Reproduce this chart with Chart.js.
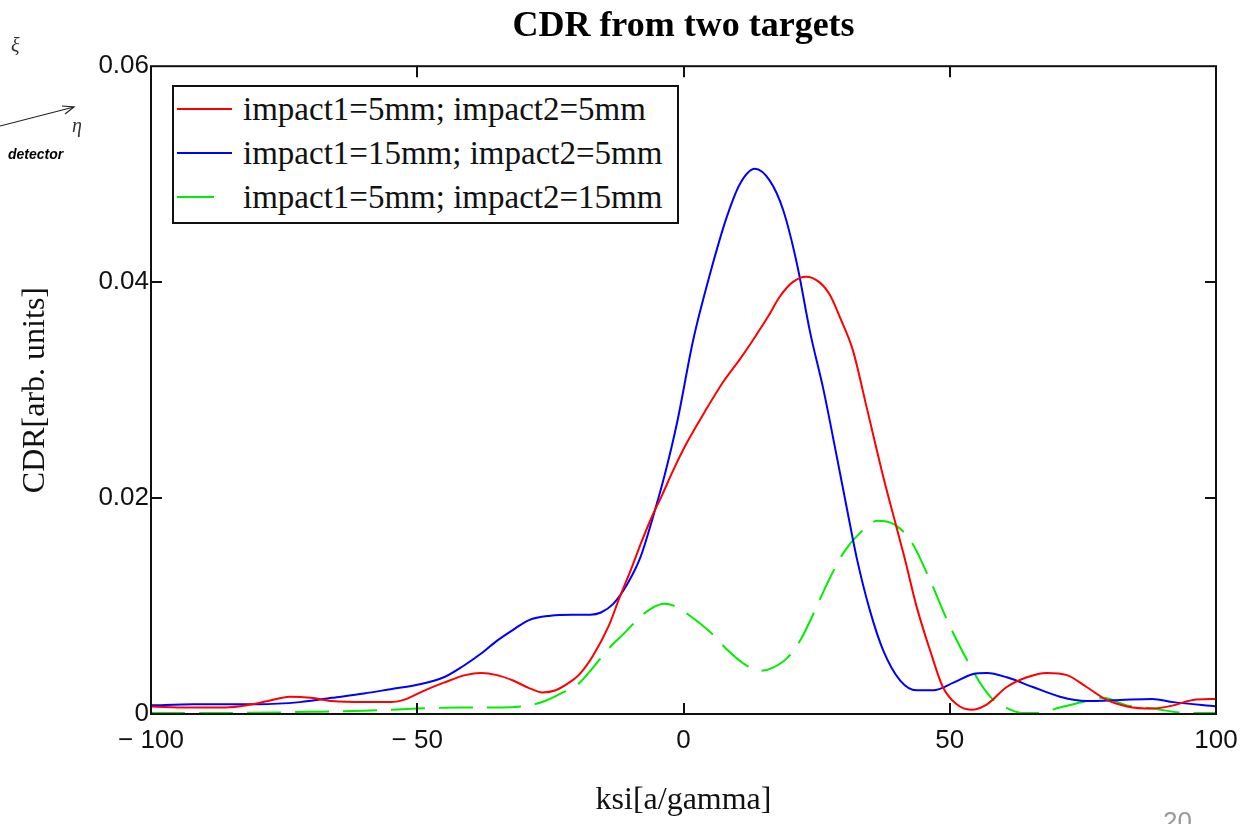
<!DOCTYPE html>
<html>
<head>
<meta charset="utf-8">
<script src="https://cdn.jsdelivr.net/npm/chart.js@4.4.1/dist/chart.umd.min.js"></script>
<style>
    body { margin: 0; background: #fff; }
    #wrap { position: relative; width: 1253px; height: 824px; overflow: hidden; }
    #legend {
        position: absolute; left: 172px; top: 85px; width: 507px; height: 139px;
        box-sizing: border-box; border: 2px solid #111; background: #fff;
        font-family: "Liberation Serif", "Times New Roman", serif; font-size: 33px; color: #111;
    }
    .row { position: relative; height: 44px; line-height: 44px; padding-left: 69px; white-space: nowrap; }
    .row .swatch { position: absolute; left: 3px; top: 21px; height: 0; border-top: 2px solid; }
    .note { position: absolute; font-family: "Liberation Serif", serif; font-style: italic; color: #333; }
</style>
</head>
<body>
<div id="wrap">
    <canvas id="cdrChart" width="1253" height="824"></canvas>
    <div id="legend"></div>
    <div class="note" style="left:11px; top:34px; font-size:20px;">ξ</div>
    <div class="note" style="left:72px; top:114px; font-size:20px;">η</div>
    <div class="note" style="left:8px; top:146px; font-family:'Liberation Sans',Arial,sans-serif; font-weight:bold; font-size:14px; color:#000;">detector</div>
    <svg style="position:absolute; left:0; top:95px;" width="90" height="40">
        <line x1="0" y1="31" x2="74" y2="12" stroke="#222" stroke-width="1.2"/>
        <polyline points="62,11 74,12 65,19" fill="none" stroke="#222" stroke-width="1.2"/>
    </svg>
    <div style="position:absolute; left:1163px; top:806px; font-family:'Liberation Sans',sans-serif; font-size:26px; color:#999;">20</div>
</div>

<script>
// impact1=5mm; impact2=5mm
const ksiRed = [-100, -93, -86, -82, -78, -74, -70, -66, -60, -55, -52, -49, -45, -41, -38, -35, -32, -29, -26.5, -24, -21.5, -19.5, -17, -14, -12, -10, -8, -6, -4, -2, 0.5, 4, 7.5, 10.5, 13, 16, 18, 20.5, 23, 25.5, 27.5, 29.5, 31.8, 34.4, 37.5, 40, 41.5, 43.8, 46.3, 48.7, 51.3, 54, 57, 60.7, 64.5, 68.2, 72, 75.7, 79.5, 83.3, 88, 92, 95.7, 100];
const cdrRed = [0.0007, 0.0006, 0.0006, 0.0008, 0.0012, 0.0016, 0.0015, 0.0012, 0.0011, 0.0011, 0.0014, 0.0021, 0.0029, 0.0036, 0.0038, 0.0036, 0.0031, 0.0024, 0.0020, 0.0022, 0.0029, 0.0037, 0.0054, 0.0082, 0.0108, 0.0132, 0.0158, 0.0182, 0.0203, 0.0225, 0.0250, 0.0280, 0.0308, 0.0328, 0.0346, 0.0369, 0.0386, 0.0400, 0.0405, 0.0400, 0.0388, 0.0366, 0.0337, 0.0284, 0.0220, 0.0173, 0.0145, 0.0099, 0.0059, 0.0025, 0.0009, 0.0004, 0.0009, 0.0025, 0.0034, 0.0038, 0.0036, 0.0025, 0.0013, 0.0007, 0.0005, 0.0008, 0.0013, 0.0014];

// impact1=15mm; impact2=5mm
const ksiBlue = [-100, -92, -80, -72, -66, -60, -55, -50, -45, -41.5, -38, -35, -32, -29, -25, -21, -17.5, -15.5, -13.2, -10.6, -8.1, -5.7, -3.5, -1.2, 1.8, 5, 8.1, 10.6, 13.4, 16.2, 18.7, 21.3, 23.8, 26.3, 28.8, 30.5, 32.6, 35, 37.5, 40.7, 43.8, 46.9, 50.7, 54.4, 57, 60.7, 65.6, 70.7, 75.7, 82, 88, 92, 100];
const cdrBlue = [0.0008, 0.0009, 0.0009, 0.0011, 0.0015, 0.0019, 0.0023, 0.0027, 0.0034, 0.0044, 0.0056, 0.0068, 0.0078, 0.0087, 0.0091, 0.0092, 0.0092, 0.0094, 0.0102, 0.0120, 0.0145, 0.0183, 0.0222, 0.0270, 0.0346, 0.0408, 0.0460, 0.0491, 0.0505, 0.0494, 0.0467, 0.0417, 0.0353, 0.0300, 0.0238, 0.0195, 0.0143, 0.0096, 0.0059, 0.0031, 0.0022, 0.0022, 0.0029, 0.0037, 0.0038, 0.0034, 0.0025, 0.0016, 0.0012, 0.0013, 0.0014, 0.0011, 0.0007];

// impact1=5mm; impact2=15mm
const ksiGreen = [-100, -85, -70, -60, -50, -42, -34, -29, -26, -23, -19.5, -17, -13.8, -11.3, -8.5, -6.3, -3.5, -1.2, 1.2, 5, 8.1, 11.2, 14.4, 16.8, 19.5, 21.9, 24.4, 27, 30, 33.2, 36.5, 39.4, 42.6, 46.3, 49.5, 52.6, 55.8, 58, 60.5, 63.5, 66.5, 70.7, 75.7, 78.8, 83.3, 88.2, 94.5, 100];
const cdrGreen = [0.0001, 0.0001, 0.0002, 0.0003, 0.0005, 0.0006, 0.0006, 0.0008, 0.0012, 0.0019, 0.0029, 0.0043, 0.0062, 0.0074, 0.0088, 0.0097, 0.0102, 0.0099, 0.0091, 0.0076, 0.0060, 0.0047, 0.0040, 0.0043, 0.0052, 0.0068, 0.0093, 0.0121, 0.0149, 0.0168, 0.0179, 0.0176, 0.0161, 0.0124, 0.0087, 0.0056, 0.0028, 0.0014, 0.0006, 0.0001, 0.0001, 0.0006, 0.0012, 0.0015, 0.0008, 0.0005, 0.0001, 0.0001];

const seriesLabels = ['impact1=5mm; impact2=5mm', 'impact1=15mm; impact2=5mm', 'impact1=5mm; impact2=15mm'];
const xTicks = [-100, -50, 0, 50, 100];
const yTicks = [0, 0.02, 0.04, 0.06];

function toPoints(xs, ys) {
    return xs.map((x, i) => ({ x: x, y: ys[i] }));
}

// title centred over the plot, not the whole canvas
const centerTitle = {
    id: 'centerTitle',
    afterLayout(chart) {
        if (chart.titleBlock) {
            chart.titleBlock.left = chart.chartArea.left;
            chart.titleBlock.right = chart.chartArea.right;
        }
    }
};

// box around the plot plus inward tick marks on all four sides
const frameTicks = {
    id: 'frameTicks',
    afterDatasetsDraw(chart) {
        const { ctx, chartArea: a, scales: { x, y } } = chart;
        ctx.save();
        ctx.strokeStyle = '#111';
        ctx.lineWidth = 2;
        ctx.strokeRect(a.left, a.top, a.right - a.left, a.bottom - a.top);
        ctx.beginPath();
        xTicks.slice(1, -1).forEach(v => {
            const px = Math.round(x.getPixelForValue(v));
            ctx.moveTo(px, a.bottom); ctx.lineTo(px, a.bottom - 11);
            ctx.moveTo(px, a.top); ctx.lineTo(px, a.top + 11);
        });
        yTicks.slice(1, -1).forEach(v => {
            const py = Math.round(y.getPixelForValue(v));
            ctx.moveTo(a.left, py); ctx.lineTo(a.left + 11, py);
            ctx.moveTo(a.right, py); ctx.lineTo(a.right - 11, py);
        });
        ctx.stroke();
        ctx.restore();
    }
};

const serif = "'Liberation Serif', 'Times New Roman', serif";
const narrow = "'Liberation Sans Narrow', 'Arial Narrow', 'Liberation Sans', sans-serif";

const ctx = document.getElementById('cdrChart').getContext('2d');
const chart = new Chart(ctx, {
    type: 'line',
    data: {
        datasets: [
            { label: seriesLabels[0], data: toPoints(ksiRed, cdrRed), borderColor: '#ff0000' },
            { label: seriesLabels[1], data: toPoints(ksiBlue, cdrBlue), borderColor: '#0000ff' },
            { label: seriesLabels[2], data: toPoints(ksiGreen, cdrGreen), borderColor: '#00ee00', borderDash: [34, 14] }
        ]
    },
    options: {
        responsive: false,
        animation: false,
        layout: { padding: { left: 0, right: 37, top: 0, bottom: 0 } },
        elements: {
            point: { radius: 0 },
            line: { borderWidth: 2, cubicInterpolationMode: 'monotone', fill: false }
        },
        plugins: {
            legend: { display: false },
            tooltip: { enabled: false },
            title: {
                display: true,
                text: 'CDR from two targets',
                color: '#000',
                font: { family: serif, size: 36, weight: 'bold' },
                padding: { top: 5, bottom: 18 }
            }
        },
        scales: {
            x: {
                type: 'linear',
                min: -100,
                max: 100,
                afterFit: s => { s.height = 110; },
                afterBuildTicks: s => { s.ticks = xTicks.map(v => ({ value: v })); },
                grid: { display: false, drawTicks: false },
                border: { display: false },
                ticks: {
                    color: '#111',
                    padding: 11,
                    maxRotation: 0,
                    font: { family: narrow, size: 26 },
                    callback: v => v < 0 ? '\u2212 ' + Math.abs(v) : String(v)
                },
                title: {
                    display: true,
                    text: 'ksi[a/gamma]',
                    color: '#111',
                    font: { family: serif, size: 32 },
                    padding: { top: 0, bottom: 4 }
                }
            },
            y: {
                min: 0,
                max: 0.06,
                afterFit: s => { s.width = 151; },
                afterBuildTicks: s => { s.ticks = yTicks.map(v => ({ value: v })); },
                grid: { display: false, drawTicks: false },
                border: { display: false },
                ticks: {
                    color: '#111',
                    padding: 2,
                    font: { family: narrow, size: 26 },
                    callback: v => String(v)
                },
                title: {
                    display: true,
                    text: 'CDR[arb. units]',
                    color: '#111',
                    font: { family: serif, size: 32 },
                    padding: { top: 16, bottom: 0 }
                }
            }
        }
    },
    plugins: [centerTitle, frameTicks]
});

// legend drawn as html, placed inside the plot like the original
const legendBox = document.getElementById('legend');
chart.data.datasets.forEach(ds => {
    const row = document.createElement('div');
    row.className = 'row';
    const swatch = document.createElement('span');
    swatch.className = 'swatch';
    swatch.style.borderColor = ds.borderColor;
    swatch.style.width = ds.borderDash ? '37px' : '55px';
    row.appendChild(swatch);
    row.appendChild(document.createTextNode(ds.label));
    legendBox.appendChild(row);
});
</script>
</body>
</html>
